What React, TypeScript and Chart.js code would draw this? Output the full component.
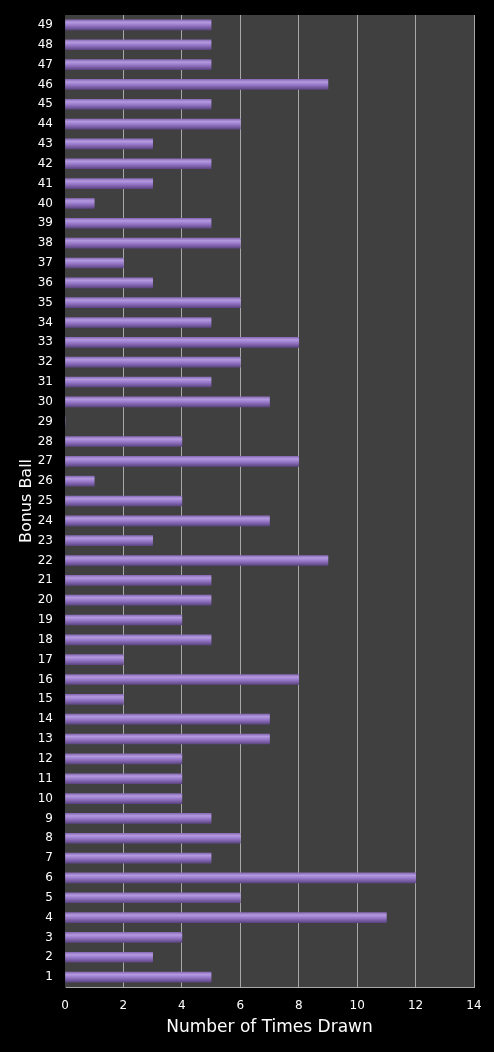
import { useEffect, useRef } from "react";
import { Chart, registerables } from "chart.js";

Chart.register(...registerables);

const balls = Array.from({ length: 49 }, (_, i) => String(i + 1));
const timesDrawn = [
  5, 3, 4, 11, 6, 12, 5, 6, 5, 4,
  4, 4, 7, 7, 2, 8, 2, 5, 4, 5,
  5, 9, 3, 7, 4, 1, 8, 4, 0, 7,
  5, 6, 8, 5, 6, 3, 2, 6, 5, 1,
  3, 5, 3, 6, 5, 9, 5, 5, 5,
];
const xTicks = [0, 2, 4, 6, 8, 10, 12, 14];

const FONT = "'DejaVu Sans', Verdana, sans-serif";

const plotBg = {
  id: "plotBg",
  beforeDraw(chart: Chart) {
    const { ctx, chartArea } = chart;
    ctx.save();
    ctx.fillStyle = "#404040";
    ctx.fillRect(chartArea.left, chartArea.top, chartArea.right - chartArea.left, chartArea.bottom - chartArea.top);
    ctx.restore();
  },
};

function App() {
  const canvasRef = useRef<HTMLCanvasElement | null>(null);

  useEffect(() => {
    if (!canvasRef.current) return;
    const chart = new Chart(canvasRef.current, {
      type: "bar",
      data: {
        labels: balls,
        datasets: [
          {
            label: "Times Drawn",
            data: timesDrawn,
            // shaded bar like the original 3D look
            backgroundColor: (c: any) => {
              const chart = c.chart;
              const y = chart.scales?.y;
              if (!y || c.dataIndex === undefined) return "#9474c4";
              const mid = y.getPixelForValue(c.dataIndex);
              if (!Number.isFinite(mid)) return "#9474c4";
              const g = chart.ctx.createLinearGradient(0, mid - 5, 0, mid + 5);
              g.addColorStop(0, "#8a6cb8");
              g.addColorStop(0.25, "#b49ae0");
              g.addColorStop(0.55, "#9677c8");
              g.addColorStop(1, "#5e4684");
              return g;
            },
            borderWidth: 0,
            barThickness: 10,
          },
        ],
      },
      options: {
        indexAxis: "y",
        animation: false,
        responsive: false,
        layout: { padding: { top: 15, right: 20, left: 17, bottom: 14 } },
        plugins: {
          legend: { display: false },
          tooltip: { enabled: false },
        },
        scales: {
          x: {
            min: 0,
            max: 14,
            afterBuildTicks: (axis: any) => {
              axis.ticks = xTicks.map((v) => ({ value: v }));
            },
            afterFit: (axis: any) => {
              axis.height = 51;
            },
            grid: { color: "#a8a8a8", lineWidth: 1, drawTicks: false },
            border: { color: "#a8a8a8", width: 1 },
            ticks: {
              color: "#ffffff",
              padding: 12,
              font: { family: FONT, size: 12 },
            },
            title: {
              display: true,
              text: "Number of Times Drawn",
              color: "#ffffff",
              font: { family: FONT, size: 17 },
              padding: { top: 2, bottom: 0 },
            },
          },
          y: {
            reverse: true,
            afterFit: (axis: any) => {
              axis.width = 48;
              axis.paddingTop = 0;
              axis.paddingBottom = 0;
            },
            grid: { display: false, drawTicks: false },
            border: { color: "#404040" },
            ticks: {
              color: "#ffffff",
              padding: 12,
              autoSkip: false,
              font: { family: FONT, size: 12 },
            },
            title: {
              display: true,
              text: "Bonus Ball",
              color: "#ffffff",
              font: { family: FONT, size: 16 },
              padding: 0,
            },
          },
        },
      },
      plugins: [plotBg],
    });
    chart.update();
    return () => chart.destroy();
  }, []);

  return (
    <div style={{ position: "absolute", left: 0, top: 0, width: 494, height: 1052, background: "#000" }}>
      <canvas ref={canvasRef} width={494} height={1052} style={{ width: 494, height: 1052 }} />
    </div>
  );
}

export default App;
